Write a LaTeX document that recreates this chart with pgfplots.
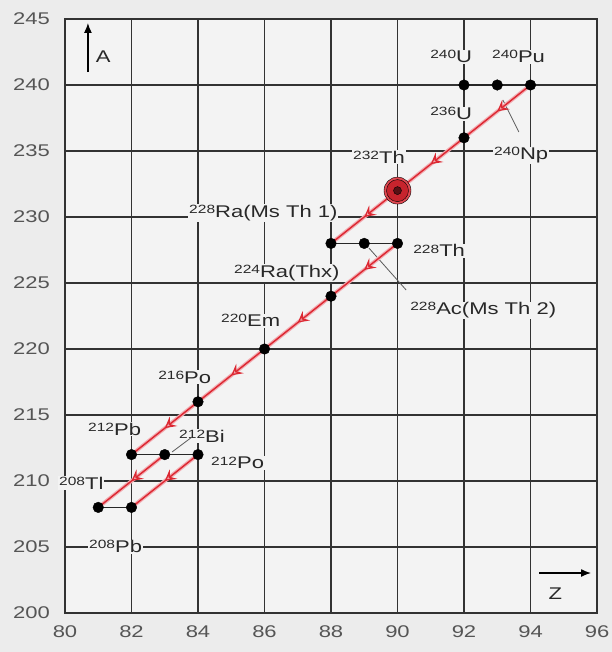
\documentclass[border=0pt]{standalone}
\usepackage{fontspec}
\setmainfont{Liberation Sans}[FakeStretch=1.3]
\usepackage{pgfplots}
\pgfplotsset{compat=1.18}
\usetikzlibrary{arrows.meta,decorations.markings}
\definecolor{bg}{RGB}{236,236,236}
\definecolor{plotbg}{RGB}{243,243,243}
\definecolor{gridc}{RGB}{50,50,50}
\definecolor{ticklab}{RGB}{85,85,85}
\definecolor{alph}{RGB}{220,40,50}
\definecolor{halo}{RGB}{242,170,176}
\definecolor{txt}{RGB}{40,40,40}
\newcommand\iso[2]{\raisebox{4pt}{\fontsize{12}{12}\selectfont #1}#2}
\tikzset{
 adecay/.style={alph, line width=1.4pt,
   preaction={draw=halo, line width=3.8pt},
   postaction={decorate},
   decoration={markings, mark=at position 0.5 with {\arrow[alph, line width=1.3pt]{Stealth[length=11bp,width=12bp,inset=4.5bp,fill=halo]}}}},
 bdecay/.style={black!85, line width=1.7pt},
 lab/.style={anchor=base west, inner sep=1pt, fill=plotbg, text=txt, font=\fontsize{17}{17}\selectfont},
 leader/.style={gray!70!black, line width=0.8pt},
}
\begin{document}
\begin{tikzpicture}
\fill[bg] (-65bp,-39bp) rectangle (547bp,613bp);
\useasboundingbox (-65bp,-39bp) rectangle (547bp,613bp);
\begin{axis}[
 at={(0,0)}, anchor=south west,
 scale only axis, width=532bp, height=594bp,
 xmin=80, xmax=96, ymin=200, ymax=245,
 xtick={80,82,...,96}, ytick={200,205,...,245},
 grid=major, major grid style={gridc, line width=1.2pt},
 axis line style={gridc, line width=1.6pt},
 major tick length=0pt,
 axis background/.style={fill=plotbg},
 tick label style={font=\fontsize{17}{17}\selectfont, text=ticklab},
 /pgf/number format/assume math mode=true,
 yticklabel style={inner sep=0pt, xshift=-15bp},
 xticklabel style={inner sep=0pt, yshift=-12bp},
 clip=false,
]
% labels
\node[lab] at (axis cs:90.95,241.67) {\iso{240}{U}};
\node[lab] at (axis cs:92.81,241.67) {\iso{240}{Pu}};
\node[lab] at (axis cs:90.95,237.35) {\iso{236}{U}};
\node[lab] at (axis cs:92.87,234.32) {\iso{240}{Np}};
\node[lab] at (axis cs:88.63,234.09) {\iso{232}{Th}};
\node[lab] at (axis cs:83.70,230.00) {\iso{228}{Ra(Ms Th 1)}};
\node[lab] at (axis cs:90.44,226.97) {\iso{228}{Th}};
\node[lab] at (axis cs:85.05,225.45) {\iso{224}{Ra(Thx)}};
\node[lab] at (axis cs:90.35,222.58) {\iso{228}{Ac(Ms Th 2)}};
\node[lab] at (axis cs:84.66,221.67) {\iso{220}{Em}};
\node[lab] at (axis cs:82.77,217.42) {\iso{216}{Po}};
\node[lab] at (axis cs:80.66,213.48) {\iso{212}{Pb}};
\node[lab] at (axis cs:83.40,212.95) {\iso{212}{Bi}};
\node[lab] at (axis cs:84.36,210.91) {\iso{212}{Po}};
\node[lab] at (axis cs:79.79,209.39) {\iso{208}{Tl}};
\node[lab] at (axis cs:80.69,204.55) {\iso{208}{Pb}};
% axis direction markers
\draw[black, line width=1.4pt, -{Latex[length=10bp,width=8bp]}] (axis cs:80.69,240.98) -- (axis cs:80.69,244.7);
\node[anchor=base west, inner sep=0pt, text=txt, font=\fontsize{17}{17}\selectfont] at (axis cs:80.92,241.67) {A};
\draw[black, line width=1.4pt, -{Latex[length=10bp,width=8bp]}] (axis cs:94.26,203.03) -- (axis cs:95.82,203.03);
\node[anchor=base, inner sep=0pt, text=txt, font=\fontsize{17}{17}\selectfont] at (axis cs:94.75,201.05) {Z};
% leader lines
\addplot[leader] coordinates {(93.65,236.44) (93.17,238.86)};
\addplot[leader] coordinates {(90.26,224.47) (89.14,227.65)};
\addplot[leader] coordinates {(83.82,213.33) (83.22,212.20)};
% beta decays
\addplot[bdecay] coordinates {(92,240) (94,240)};
\addplot[bdecay] coordinates {(88,228) (90,228)};
\addplot[bdecay] coordinates {(82,212) (84,212)};
\addplot[bdecay] coordinates {(81,208) (82,208)};
% alpha decays
\addplot[adecay] coordinates {(94,240) (92,236)};
\addplot[adecay] coordinates {(92,236) (90,232)};
\addplot[adecay] coordinates {(90,232) (88,228)};
\addplot[adecay] coordinates {(90,228) (88,224)};
\addplot[adecay] coordinates {(88,224) (86,220)};
\addplot[adecay] coordinates {(86,220) (84,216)};
\addplot[adecay] coordinates {(84,216) (82,212)};
\addplot[adecay] coordinates {(83,212) (81,208)};
\addplot[adecay] coordinates {(84,212) (82,208)};
% nuclides
\addplot[only marks, mark=*, mark size=5.3bp, mark options={fill=black, draw=black}] coordinates {
 (92,240) (93,240) (94,240) (92,236) (88,228) (89,228) (90,228) (88,224)
 (86,220) (84,216) (82,212) (83,212) (84,212) (81,208) (82,208)};
\addplot[only marks, mark=*, mark size=13.5bp, mark options={fill=alph!75!halo, draw=none}] coordinates {(90,232)};
\addplot[only marks, mark=*, mark size=11bp, mark options={fill=alph!90!black, draw=none}] coordinates {(90,232)};
\addplot[only marks, mark=*, mark size=4bp, mark options={fill=alph!40!black, draw=none}] coordinates {(90,232)};
\end{axis}
\end{tikzpicture}
\end{document}
